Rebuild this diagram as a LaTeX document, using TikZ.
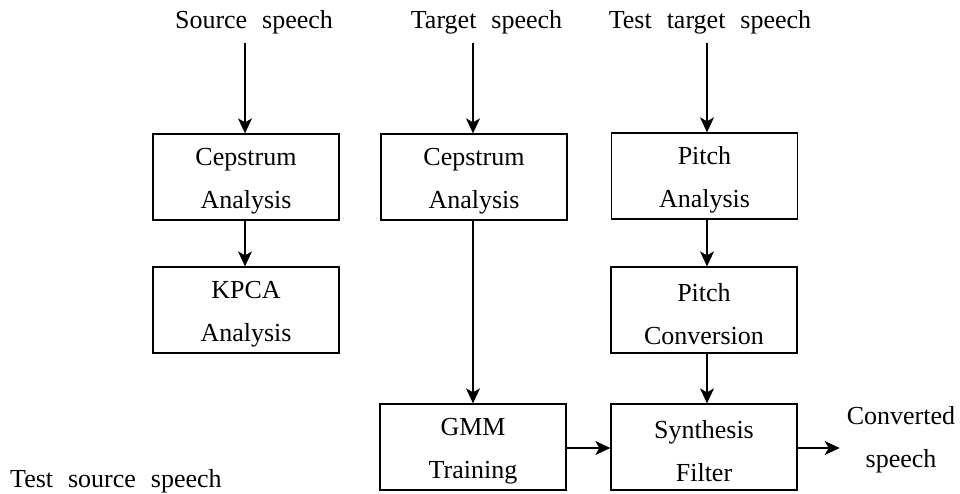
\documentclass[tikz,border=0pt]{standalone}
\usepackage{fontspec}
\setmainfont{Liberation Serif}[WordSpace=2.3]
\usetikzlibrary{arrows.meta}
\newcommand\boxstrut{\rule{0pt}{26pt}}
\begin{document}
\begin{tikzpicture}[x=1pt,y=-1pt,
  every node/.style={font=\fontsize{26}{43}\selectfont},
  blk/.style={draw,line width=1.3pt,minimum width=186pt,minimum height=86pt,align=center,inner sep=0pt},
  lbl/.style={inner sep=0pt},
  arr/.style={line width=1.3pt,-{Stealth[length=15pt,width=14pt,inset=4pt]}}]
\useasboundingbox (0,0) rectangle (960,493);
% top labels
\node[lbl,anchor=base] (src) at (254,28) {Source speech};
\node[lbl,anchor=base] (tgt) at (486.5,28) {Target speech};
\node[lbl,anchor=base] (ttgt) at (710,28) {Test target speech};
\node[lbl,anchor=base west] (tsrc) at (10,487) {Test source speech};
% boxes
\node[blk] (cepA) at (246,177) {\boxstrut Cepstrum\\Analysis};
\node[blk] (kpca) at (246,310) {\boxstrut KPCA\\Analysis};
\node[blk] (cepB) at (474,177) {\boxstrut Cepstrum\\Analysis};
\node[blk] (gmm) at (473,447) {\boxstrut GMM\\Training};
\node[blk] (pitA) at (704.5,176) {\boxstrut Pitch\\Analysis};
\node[blk] (pitC) at (704,310) {\boxstrut Pitch\\Conversion};
\node[blk] (syn) at (704,447) {\boxstrut Synthesis\\Filter};
\node[lbl,align=center] (conv) at (901,440) {Converted\\speech};
% arrows
\draw[arr] ([yshift=-9pt]src.south -| 245,0) -- (245,0 |- cepA.north);
\draw[arr] ([yshift=-9pt]tgt.south -| 473,0) -- (473,0 |- cepB.north);
\draw[arr] ([yshift=-9pt]ttgt.south -| 707,0) -- (707,0 |- pitA.north);
\draw[arr] (245,0 |- cepA.south) -- (245,0 |- kpca.north);
\draw[arr] (473,0 |- cepB.south) -- (473,0 |- gmm.north);
\draw[arr] (707,0 |- pitA.south) -- (707,0 |- pitC.north);
\draw[arr] (707,0 |- pitC.south) -- (707,0 |- syn.north);
\draw[arr] (gmm.east |- 0,448) -- (syn.west |- 0,448);
\draw[arr] (syn.east |- 0,448) -- ([xshift=-7pt]conv.west |- 0,448);
\end{tikzpicture}
\end{document}
